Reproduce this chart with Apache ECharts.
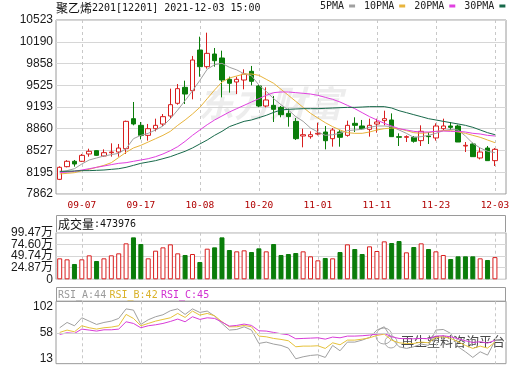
<!DOCTYPE html>
<html><head><meta charset="utf-8">
<script src="https://cdn.jsdelivr.net/npm/echarts@6/dist/echarts.min.js"></script>
<style>html,body{margin:0;padding:0;background:#fff;}#c{width:520px;height:365px;}</style>
</head><body><div id="c"></div>
<script>
const titleCn = '聚乙烯';
const titleRest = '2201[12201] 2021-12-03 15:00';
const dates = ['09-02','09-03','09-06','09-07','09-08','09-09','09-10','09-13','09-14','09-15',
'09-16','09-17','09-22','09-23','09-24','09-27','09-28','09-29','09-30','10-08',
'10-11','10-12','10-13','10-14','10-15','10-18','10-19','10-20','10-21','10-22',
'10-25','10-26','10-27','10-28','10-29','11-01','11-02','11-03','11-04','11-05',
'11-08','11-09','11-10','11-11','11-12','11-15','11-16','11-17','11-18','11-19',
'11-22','11-23','11-24','11-25','11-26','11-29','11-30','12-01','12-02','12-03'];
const labelDates = ['09-07','09-17','10-08','10-20','11-01','11-11','11-23','12-03'];
const open = [8086,8280,8362,8362,8474,8525,8443,8494,8504,8555, 9014,8912,8759,8861,8932,9055,9249,9493,9442,10064, 9809,10003,9942,9616,9575,9605,9738,9514,9208,9218, 9187,9095,8973,8749,8739,8779,8810,8708,8810,8759, 8943,8902,8851,8932,8984,8994,8739,8729,8729,8678, 8749,8719,8861,8902,8902,8596,8627,8413,8565,8372];
const close = [8270,8362,8321,8453,8515,8453,8494,8504,8565,8973, 8933,8759,8861,8912,9045,9228,9473,9391,9911,9809, 10013,9901,9605,9555,9616,9697,9585,9208,9300,9157, 9075,9045,8708,8769,8769,8790,8677,8841,8729,8912, 8912,8861,8912,8963,9014,8739,8729,8739,8668,8821, 8739,8902,8902,8881,8657,8606,8433,8504,8372,8545];
const high = [8285,8380,8382,8474,8555,8530,8545,8637,8627,8984, 9269,8963,8933,9014,9085,9473,9544,9595,9973,10268, 10329,10095,10054,9656,9656,9769,9820,9530,9493,9361, 9208,9167,9024,8861,8820,8953,8902,8871,8841,8984, 9035,8994,9014,9014,9136,9095,8790,8759,8749,8912, 8810,8943,9014,8963,8922,8657,8647,8576,8596,8565];
const low = [8075,8270,8280,8352,8433,8445,8433,8433,8433,8474, 8912,8698,8678,8820,8902,9014,9228,9238,9310,9656, 9779,9809,9340,9412,9391,9463,9524,9190,9187,8963, 9035,8892,8688,8576,8708,8759,8545,8586,8586,8739, 8810,8841,8739,8800,8912,8739,8596,8657,8647,8596, 8627,8678,8841,8841,8657,8504,8433,8392,8372,8290];
const ma5 = [8198,8219,8249,8321,8382,8413,8443,8464,8484,8555, 8708,8759,8790,8841,8902,9014,9147,9290,9440,9600, 9770,9840,9860,9800,9760,9700,9670,9529,9432,9320, 9228,9147,9045,8973,8871,8810,8759,8769,8790,8831, 8841,8851,8882,8902,8902,8892,8841,8790,8729,8739, 8759,8790,8831,8851,8841,8749,8637,8566,8515,8494];
const ma10 = [8168,8178,8188,8219,8239,8270,8300,8341,8420,8500, 8566,8606,8657,8708,8759,8820,8912,8994,9085,9187, 9320,9453,9575,9636,9667,9697,9697,9677,9616,9555, 9463,9371,9279,9187,9096,9024,8953,8892,8841,8800, 8790,8790,8810,8841,8861,8871,8861,8831,8800,8790, 8800,8820,8831,8831,8810,8790,8759,8729,8688,8647];
const ma20 = [8188,8198,8209,8229,8249,8270,8290,8311,8331,8341, 8362,8382,8402,8433,8474,8525,8586,8667,8759,8841, 8922,8994,9055,9116,9167,9218,9269,9320,9371,9412, 9422,9422,9412,9402,9391,9371,9340,9310,9269,9218, 9167,9106,9045,8994,8943,8902,8861,8841,8820,8810, 8810,8820,8825,8820,8820,8810,8790,8780,8759,8749];
const ma30 = [8209,8209,8214,8219,8219,8224,8229,8239,8249,8270, 8300,8331,8351,8372,8402,8433,8474,8515,8566,8627, 8688,8759,8820,8892,8933,8973,8994,9030,9065,9110, 9147,9157,9162,9167,9167,9167,9172,9177,9182,9187, 9187,9192,9198,9198,9198,9177,9136,9106,9075,9045, 9014,8994,8973,8953,8933,8912,8882,8841,8800,8769];
const volume = [447600,426300,326800,426300,511600,390800,447600,511600,554200,767300, 895200,753100,447600,611000,682100,746000,554200,518700,540000,369500, 653700,682100,895200,625200,596800,618100,582600,660800,596800,753100, 518700,540000,561300,596800,490200,405000,454700,447600,582600,746000, 646600,540000,703400,603900,810000,774400,817100,575500,689200,767300, 646600,596800,518700,433400,490200,490200,490200,447600,412100,473976];
const rsiA = [66.6,75.7,70.0,83.7,78.0,72.3,75.7,78.0,82.6,99.0, 96.9,72.3,80.3,85.5,88.9,95.8,99.0,89.5,99.0,92.9, 95.2,86.6,74.0,62.6,63.7,68.3,62.6,39.7,42.0,38.6, 36.3,31.7,13.4,16.8,19.1,20.2,15.7,36.3,27.1,42.0, 42.0,45.4,50.0,62.6,68.3,48.3,34.0,31.1,34.0,38.6, 36.3,62.6,63.7,56.9,34.0,25.4,15.7,25.4,19.7,44];
const rsiB = [58.6,62.6,59.7,70.0,66.6,64.3,66.6,67.7,70.0,89.5, 82.6,70.0,74.0,78.0,80.9,83.7,91.2,84.3,95.2,88.3, 91.2,87.2,76.9,68.3,68.3,70.6,68.3,52.3,51.1,48.3, 46.6,44.3,34.0,35.1,35.1,35.7,31.1,40.8,37.4,45.4, 45.4,47.1,49.4,53.4,55.7,45.4,40.8,39.7,39.7,42.0, 40.8,50.0,51.1,48.3,42.6,36.3,31.1,35.1,31.7,42];
const rsiC = [55.1,58.0,56.9,64.3,62.6,60.9,63.1,63.1,64.3,76.9, 74.0,66.6,70.0,71.7,74.0,77.4,81.5,76.9,85.5,80.9, 83.7,82.6,76.3,69.4,70.6,72.9,70.6,61.4,60.9,58.6, 56.3,54.6,47.7,48.3,48.8,49.4,47.1,50.6,49.4,52.3, 52.3,52.9,54.0,55.7,56.9,51.1,48.3,47.7,47.7,48.3, 47.7,52.3,52.9,51.1,47.7,44.3,41.4,42.6,40.3,45];
const priceTicks = [7862,8195,8527,8860,9193,9525,9858,10190,10523];
const volTicks = [0,248700,497400,746000,994700];
const rsiTicks = [13,58,102];
const rsiRange = [5,112];

const RED = '#d81e1e', GREEN = '#0a7d0a';
const MONO = 'DejaVu Sans Mono', CJK = 'Noto Sans CJK SC', SANS = 'Liberation Sans';

const kData = dates.map((d,i)=>[open[i], close[i], low[i], high[i]]);
const volData = volume.map((v,i)=>{
  let up;
  if (i === 0 || close[i] === close[i-1]) up = close[i] >= open[i];
  else up = close[i] > close[i-1];
  return {value: v, itemStyle: up ? {color:'#ffffff', borderColor: RED, borderWidth:1} : {color: GREEN, borderColor: GREEN, borderWidth:1}};
});

const L = 56, R = 14;
const grids = [
  {left:L, right:R, top:20, height:174},
  {left:L, right:R, top:232.7, height:46.6},
  {left:L, right:R, top:301.3, height:62.4}
].map(g=>Object.assign({show:true, borderColor:'#9a9a9a', borderWidth:1, backgroundColor:'transparent'}, g));

const isLbl = (i,v)=>labelDates.indexOf(v) >= 0;
function xAx(idx, showLabel){
  return {type:'category', gridIndex:idx, data:dates, max:dates.length, boundaryGap:true,
    axisLine:{show:false}, axisTick:{show:false},
    axisLabel:{show:showLabel, interval:isLbl, color:'#b00000', fontFamily:MONO, fontSize:9.5, margin:7},
    splitLine:{show:true, interval:isLbl, alignWithLabel:true, lineStyle:{color:'#c8c8c8', type:[3,3], width:1}}};
}
const labelBase = {color:'#1a1a1a', fontFamily:SANS, fontSize:12, margin:3, hideOverlap:false, showMinLabel:true, showMaxLabel:true};
const volFmt = v=> v===0 ? '0' : (v/10000).toFixed(2)+'万';
const volLabelsA = volTicks.filter((_,k)=>k%2===0);
const volLabelsB = volTicks.filter((_,k)=>k%2===1);
const volLabelStyle = Object.assign({}, labelBase, {formatter:volFmt, fontFamily:SANS+', '+CJK, padding:[0,0,5,0]});
const option = {
  animation:false,
  backgroundColor:'#ffffff',
  grid: grids,
  legend:{data:['5PMA','10PMA','20PMA','30PMA'], left:320, top:1, width:198, padding:0, align:'right', icon:'rect',
    itemWidth:6, itemHeight:3, itemGap:9, selectedMode:false,
    textStyle:{fontFamily:MONO, fontSize:10, color:'#222'}},
  xAxis:[xAx(0,true), xAx(1,false), xAx(2,false)],
  yAxis:[
    {type:'value', gridIndex:0, min:priceTicks[0], max:priceTicks[priceTicks.length-1], scale:true,
      axisLine:{show:false}, axisTick:{show:false, customValues:priceTicks},
      axisLabel:Object.assign({customValues:priceTicks, formatter:v=>String(Math.round(v))}, labelBase),
      splitLine:{show:true, lineStyle:{color:'#d6d6d6'}}},
    {type:'value', gridIndex:1, min:0, max:volTicks[volTicks.length-1],
      axisLine:{show:false}, axisTick:{show:false, customValues:volTicks},
      axisLabel:Object.assign({customValues:volLabelsA}, volLabelStyle),
      splitLine:{show:true, lineStyle:{color:'#d6d6d6'}}},
    {type:'value', gridIndex:2, min:rsiRange[0], max:rsiRange[1],
      axisLine:{show:false}, axisTick:{show:false, customValues:rsiTicks},
      axisLabel:Object.assign({customValues:rsiTicks}, labelBase),
      splitLine:{show:false}},
    {type:'value', gridIndex:1, position:'left', min:0, max:volTicks[volTicks.length-1],
      axisLine:{show:false}, axisTick:{show:false, customValues:volLabelsB},
      axisLabel:Object.assign({customValues:volLabelsB}, volLabelStyle),
      splitLine:{show:false}}
  ],
  series:[
    {type:'candlestick', name:'K', xAxisIndex:0, yAxisIndex:0, data:kData, barWidth:5,
      itemStyle:{color:'#ffffff', color0:GREEN, borderColor:RED, borderColor0:GREEN, borderWidth:1}},
    {type:'line', name:'5PMA', data:ma5, xAxisIndex:0, yAxisIndex:0, symbol:'none', color:'#a0a0a0', lineStyle:{width:1, color:'#a0a0a0'}},
    {type:'line', name:'10PMA', data:ma10, xAxisIndex:0, yAxisIndex:0, symbol:'none', color:'#e8b43c', lineStyle:{width:1, color:'#e8b43c'}},
    {type:'line', name:'20PMA', data:ma20, xAxisIndex:0, yAxisIndex:0, symbol:'none', color:'#e040e0', lineStyle:{width:1, color:'#e040e0'}},
    {type:'line', name:'30PMA', data:ma30, xAxisIndex:0, yAxisIndex:0, symbol:'none', color:'#17694a', lineStyle:{width:1, color:'#17694a'}},
    {type:'bar', name:'VOL', data:volData, xAxisIndex:1, yAxisIndex:1, barWidth:5},
    {type:'line', name:'RSI_A', data:rsiA, xAxisIndex:2, yAxisIndex:2, symbol:'none', lineStyle:{width:1, color:'#a0a0a0'},
      markLine:{silent:true, symbol:'none', label:{show:false}, lineStyle:{color:'#d0d0d0', type:'solid', width:1}, data:[{yAxis:rsiTicks[1]}]}},
    {type:'line', name:'RSI_B', data:rsiB, xAxisIndex:2, yAxisIndex:2, symbol:'none', lineStyle:{width:1, color:'#e6c23a'}},
    {type:'line', name:'RSI_C', data:rsiC, xAxisIndex:2, yAxisIndex:2, symbol:'none', lineStyle:{width:1, color:'#d83cd8'}}
  ],
  graphic:[
    {type:'text', x:198, y:103, z:-1, silent:true, style:{text:'东方财富', fontFamily:CJK, fontSize:36, fontWeight:'bold', fontStyle:'italic', fill:'rgba(0,0,0,0.07)', verticalAlign:'middle'}},
    {type:'text', x:56, y:8, style:{text:'{a|'+titleCn+'}{b|'+titleRest+'}', verticalAlign:'middle',
      rich:{a:{fontFamily:CJK, fontSize:12, fill:'#111'}, b:{fontFamily:MONO, fontSize:10, fill:'#111'}}}},
    {type:'rect', shape:{x:56.5, y:215.5, width:449, height:17.2}, style:{fill:'none', stroke:'#9a9a9a', lineWidth:1}},
    {type:'text', x:58, y:224, style:{text:'{a|成交量}{b|:'+volume[volume.length-1]+'}', verticalAlign:'middle',
      rich:{a:{fontFamily:CJK, fontSize:12, fill:'#111'}, b:{fontFamily:MONO, fontSize:10, fill:'#111'}}}},
    {type:'rect', shape:{x:56.5, y:287.5, width:449, height:13.8}, style:{fill:'none', stroke:'#9a9a9a', lineWidth:1}},
    {type:'text', x:58, y:295, style:{text:'{a|RSI_A:'+Math.round(rsiA[rsiA.length-1])+'} {b|RSI_B:'+Math.round(rsiB[rsiB.length-1])+'} {c|RSI_C:'+Math.round(rsiC[rsiC.length-1])+'}', verticalAlign:'middle',
      rich:{a:{fontFamily:MONO, fontSize:10, fill:'#9a9a9a'}, b:{fontFamily:MONO, fontSize:10, fill:'#d9b22a'}, c:{fontFamily:MONO, fontSize:10, fill:'#d030d0'}}}},
    {type:'circle', shape:{cx:384, cy:336, r:8}, style:{fill:'none', stroke:'#aaa', lineWidth:1}},
    {type:'circle', shape:{cx:391, cy:342, r:6}, style:{fill:'none', stroke:'#aaa', lineWidth:1}},
    {type:'text', x:401, y:341, style:{text:'再生塑料咨询平台', fontFamily:CJK, fontSize:13, fill:'#4a4a4a', stroke:'#ffffff', lineWidth:3, verticalAlign:'middle'}}
  ]
};
const chart = echarts.init(document.getElementById('c'), null, {renderer:'canvas'});
chart.setOption(option);
</script></body></html>
